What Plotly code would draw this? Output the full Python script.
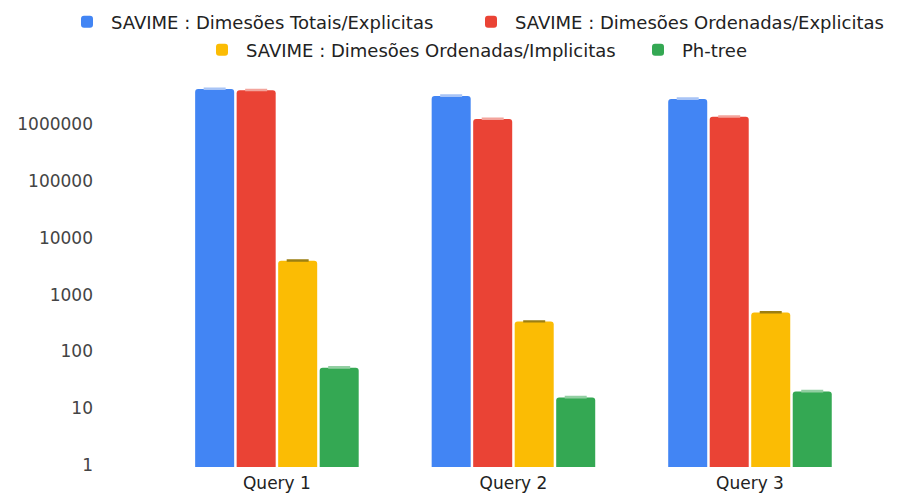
import plotly.graph_objects as go

# Query labels and measured times (log scale)
queries = ["Query 1", "Query 2", "Query 3"]
series_names = [
    "SAVIME : Dimesões Totais/Explicitas",
    "SAVIME : Dimesões Ordenadas/Explicitas",
    "SAVIME : Dimesões Ordenadas/Implicitas",
    "Ph-tree",
]
totais_explicitas = [4100000, 3100000, 2750000]
ordenadas_explicitas = [3900000, 1220000, 1330000]
ordenadas_implicitas = [3950, 336, 485]
ph_tree = [52, 15.6, 19.9]

# Upper error values
err_totais_explicitas = [100000, 75000, 65000]
err_ordenadas_explicitas = [95000, 30000, 32000]
err_ordenadas_implicitas = [60, 5, 7]
err_ph_tree = [1.2, 0.4, 0.5]

y_ticks = [1, 10, 100, 1000, 10000, 100000, 1000000]

colors = ["#4285F4", "#EA4335", "#FBBC04", "#34A853"]
cap_colors = ["#a8c4f6", "#f3a49c", "#9c7f12", "#92cfa2"]

values = [totais_explicitas, ordenadas_explicitas, ordenadas_implicitas, ph_tree]
errors = [err_totais_explicitas, err_ordenadas_explicitas, err_ordenadas_implicitas, err_ph_tree]

# One legend per entry so the two rows can be laid out freely (left x, centre y in px)
legend_ids = ["legend", "legend2", "legend3", "legend4"]
legend_pos = [(63, 22), (467, 22), (198, 50), (634, 50)]

x_pos = list(range(len(queries)))

fig = go.Figure()
for name, vals, errs, col, cap, lg in zip(series_names, values, errors, colors, cap_colors, legend_ids):
    fig.add_trace(go.Bar(
        x=x_pos,
        y=vals,
        name=name,
        marker=dict(color=col, line=dict(width=0)),
        error_y=dict(type="data", symmetric=False, array=errs,
                     arrayminus=[0] * len(errs), color=cap,
                     thickness=2, width=11),
        legend=lg,
    ))

font_family = "DejaVu Sans, Liberation Sans, Arial, sans-serif"

legend_layout = {}
for lg, (lx, ly) in zip(legend_ids, legend_pos):
    legend_layout[lg] = dict(
        orientation="h", x=lx / 898, xanchor="left", xref="container",
        y=1 - ly / 493, yanchor="middle", yref="container",
        font=dict(size=18, color="#222222"),
        itemwidth=38, bgcolor="rgba(0,0,0,0)",
    )

fig.update_layout(
    width=898,
    height=493,
    margin=dict(l=100, r=30, t=67, b=26, autoexpand=False),
    paper_bgcolor="white",
    plot_bgcolor="white",
    barmode="group",
    bargap=0.298,
    bargroupgap=0.06,
    barcornerradius=3,
    font=dict(family=font_family, size=17, color="#222222"),
    showlegend=True,
    xaxis=dict(
        range=[-0.748, 2.499],
        tickvals=x_pos,
        ticktext=queries,
        showgrid=False,
        zeroline=False,
        showline=False,
        ticks="",
        automargin=False,
        ticklabelstandoff=4,
        tickfont=dict(size=17, color="#222222"),
    ),
    yaxis=dict(
        type="log",
        range=[-0.03, 7.0],
        tickvals=y_ticks,
        ticktext=[str(v) for v in y_ticks],
        showgrid=False,
        zeroline=False,
        showline=False,
        ticks="",
        automargin=False,
        ticklabelstandoff=6,
        tickfont=dict(size=17, color="#444444"),
    ),
    **legend_layout,
)

fig.write_html("out.html")
